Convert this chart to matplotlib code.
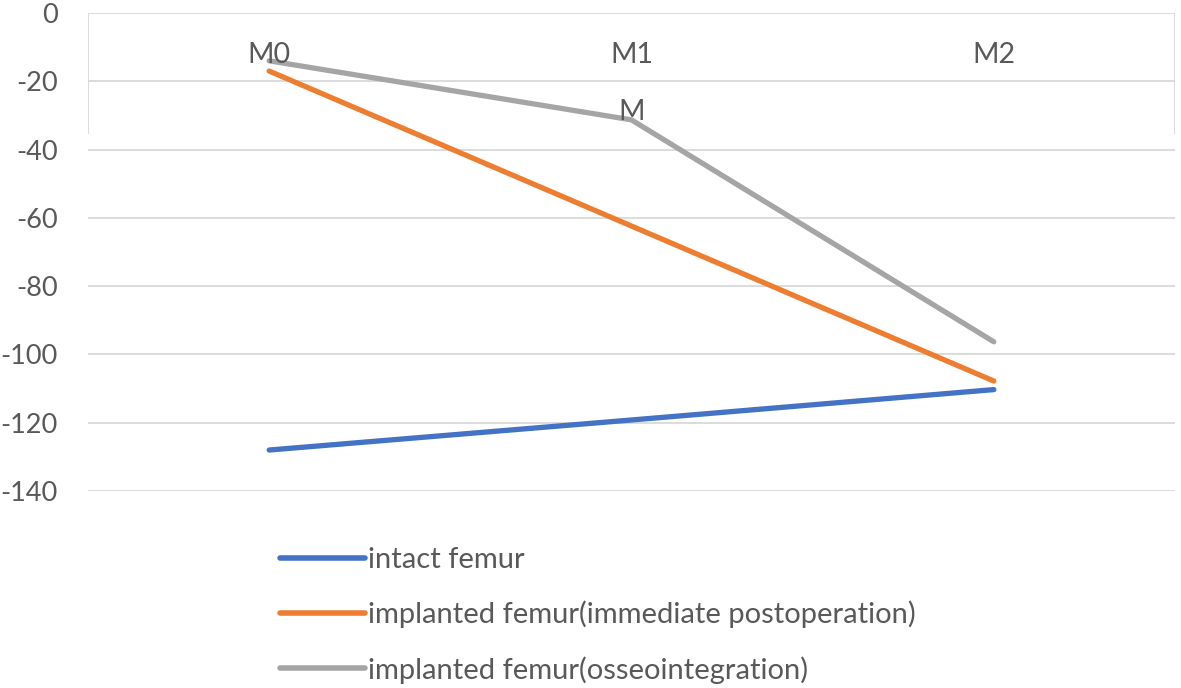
import matplotlib
matplotlib.use("Agg")
import matplotlib.pyplot as plt
from matplotlib.lines import Line2D

plt.rcParams['font.family'] = ['Lato', 'DejaVu Sans']

categories = ["M0", "M1", "M2"]
intact = [-128, -119.2, -110.3]
implanted_immediate = [-17, -62.4, -107.8]
implanted_osseo = [-14, -31.3, -96.3]
series_names = ["intact femur",
                "implanted femur(immediate postoperation)",
                "implanted femur(osseointegration)"]
colors = ["#4472C4", "#ED7D31", "#A5A5A5"]
yticks = [0, -20, -40, -60, -80, -100, -120, -140]

W, H = 1181, 688
fig = plt.figure(figsize=(W / 100, H / 100), dpi=100)
ax = fig.add_axes([88 / W, 1 - 491 / H, 1087 / W, 478 / H])

x = list(range(len(categories)))
for vals, col in zip([intact, implanted_immediate, implanted_osseo], colors):
    ax.plot(x, vals, color=col, lw=3.8, solid_capstyle='round', zorder=3)

ax.set_xlim(-0.5, len(categories) - 0.5)
ax.set_ylim(min(yticks), max(yticks))
ax.set_yticks(yticks)
ax.set_yticklabels([str(v) for v in yticks])
ax.set_xticks([])
ax.tick_params(axis='y', length=0, pad=22, labelsize=19.5, labelcolor='#595959')
ax.grid(axis='y', color='#D9D9D9', lw=1.3, zorder=0)
for s in ax.spines.values():
    s.set_visible(False)

# category labels placed near top (axis crosses at 0)
for i, c in enumerate(categories):
    ax.text(i, -12.3, c, ha='center', va='center', fontsize=20.5, color='#595959', zorder=4)
# stray label fragment in original
ax.text(1, -29, "M", ha='center', va='center', fontsize=20.5, color='#595959', zorder=4)

# short vertical borders at top
ax.axvline(-0.5, ymin=0.75, ymax=1.0, color='#D9D9D9', lw=1.3)
ax.axvline(len(categories) - 0.5, ymin=0.75, ymax=1.0, color='#D9D9D9', lw=1.3)

handles = [Line2D([0], [0], color=c, lw=4, solid_capstyle='round') for c in colors]
fig.legend(handles, series_names, loc='upper left', bbox_to_anchor=(280 / W, 1 - 547 / H),
           frameon=False, fontsize=21, labelcolor='#595959', handlelength=2.9,
           handletextpad=0.12, labelspacing=0.95, borderaxespad=0, borderpad=0)

fig.savefig("out.png", dpi=100)
